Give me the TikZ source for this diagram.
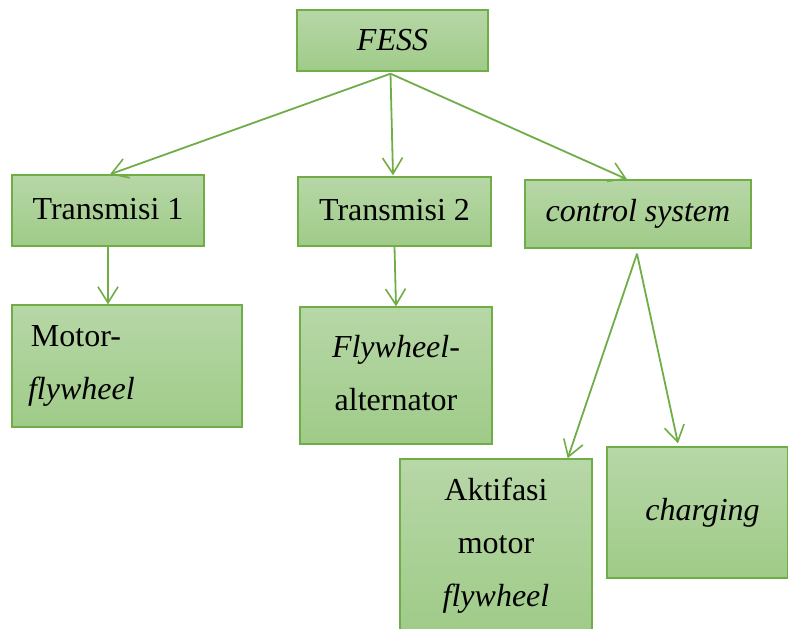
\documentclass[tikz,border=0pt]{standalone}
\usepackage{fontspec}
\setmainfont{Liberation Serif}
\usetikzlibrary{arrows.meta, positioning}
\definecolor{boxedge}{RGB}{112,173,71}
\definecolor{boxtop}{RGB}{183,215,167}
\definecolor{boxbot}{RGB}{159,203,136}
\tikzset{
  box/.style={draw=boxedge, line width=0.7pt, top color=boxtop, bottom color=boxbot,
              align=center, inner sep=0pt,
              font=\fontsize{16}{26.5}\selectfont},
  flow/.style={-{Straight Barb[length=8pt, width=10pt, line width=0.8pt]},
               draw=boxedge, line width=0.9pt},
}
\begin{document}
\begin{tikzpicture}[x=0.5pt, y=-0.5pt]
  \useasboundingbox (0,0) rectangle (788,628);

  % ---------- top ----------
  \node[box, minimum width=95.5pt, minimum height=30.5pt] (fess) at (392.5, 40.5)
    {\itshape FESS};
  \coordinate (hub) at ([xshift=-1pt, yshift=-1pt]fess.south);

  % ---------- second row ----------
  \node[box, minimum width=96pt, minimum height=35.5pt] (trans1) at (108, 210.5)
    {\raisebox{1.5pt}{Transmisi 1}};
  \node[box, minimum width=96.5pt, minimum height=34.5pt] (trans2) at (394.5, 211.5)
    {\raisebox{1.5pt}{Transmisi 2}};
  \node[box, minimum width=113pt, minimum height=34pt] (ctrl) at (638, 214)
    {\raisebox{1.5pt}{\itshape control system}};

  \draw[flow] (hub) -- ([xshift=1pt]trans1.north);
  \draw[flow] (hub) -- ([xshift=-0.75pt, yshift=0.5pt]trans2.north);
  \draw[flow] (hub) -- ([xshift=-5.5pt]ctrl.north);

  % ---------- third row ----------
  \node[box, align=left, text width=96pt, inner xsep=9.5pt, minimum height=61pt]
    (motor) at (127, 366) {Motor-\\\hspace*{-1.5pt}\textit{flywheel}};
  \node[box, text width=96pt, minimum height=68.5pt] (alt) at (396, 375.5)
    {\raisebox{3pt}{\textit{Flywheel}-}\\\raisebox{3pt}{alternator}};
  \node[box, text width=96pt, minimum height=86.5pt] (aktif) at (496, 545.5)
    {Aktifasi\\motor\\\textit{flywheel}};
  \node[box, minimum width=90.5pt, minimum height=65.5pt] (charg) at (697.5, 512.5)
    {\hspace*{5pt}\raisebox{1.5pt}{\itshape charging}};

  \draw[flow] (trans1.south) -- (trans1.south |- motor.north);
  \draw[flow] (trans2.south) -- (alt.north);
  \coordinate (split) at ([xshift=-0.5pt, yshift=-2.5pt]ctrl.south);
  \draw[flow] (split) -- ([xshift=-12.5pt]aktif.north east);
  \draw[flow] (split) -- ([xshift=-9.75pt, yshift=1.5pt]charg.north);

\end{tikzpicture}
\end{document}
